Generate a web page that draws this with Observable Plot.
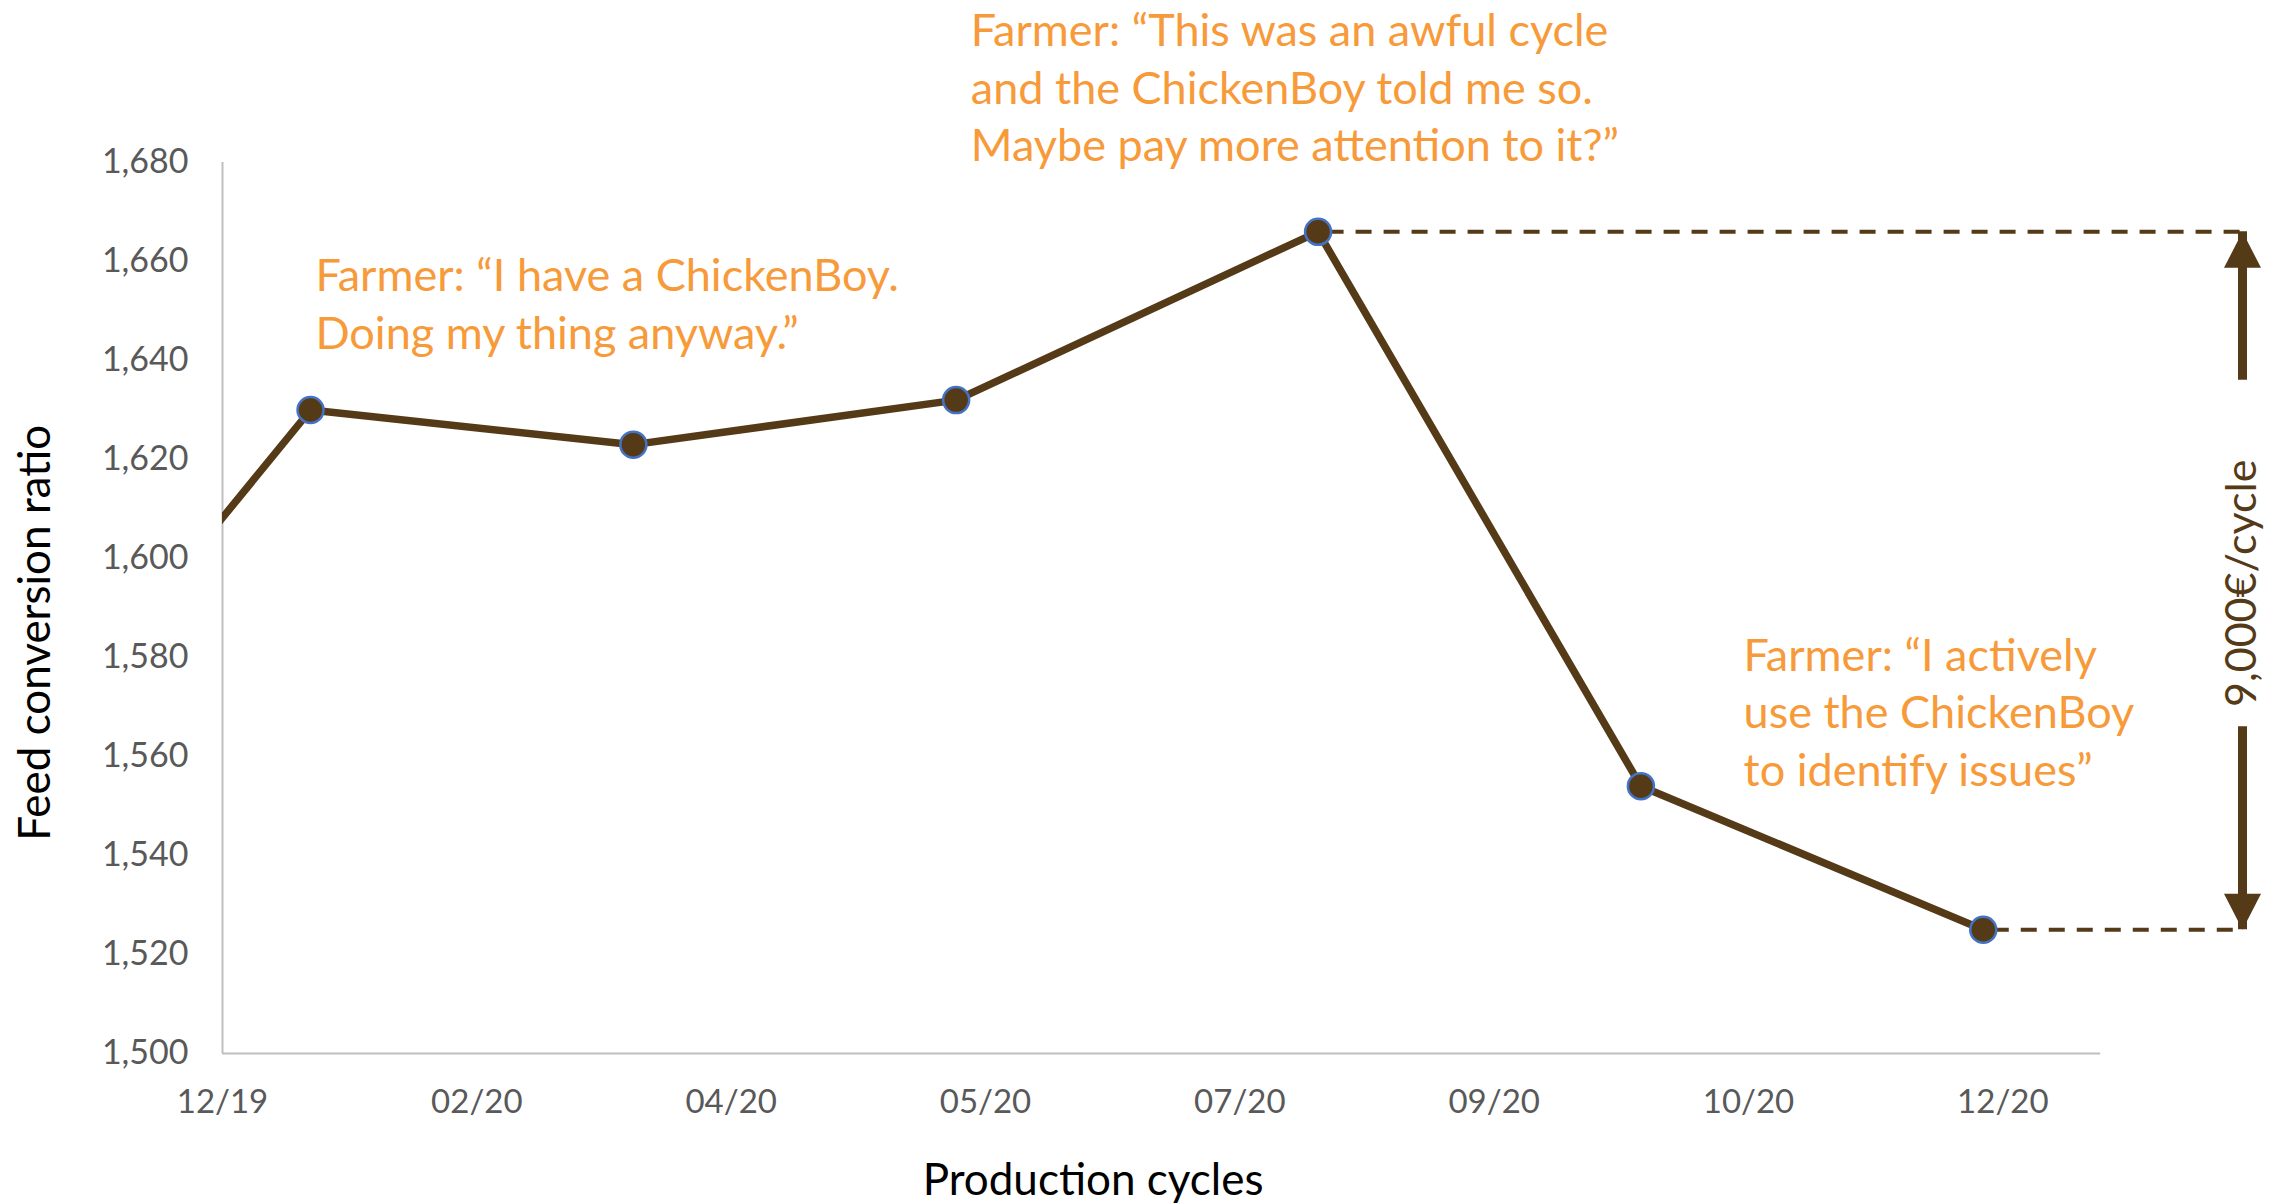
<!DOCTYPE html>
<html><head><meta charset="utf-8">
<script src="https://cdn.jsdelivr.net/npm/d3@7"></script>
<script src="https://cdn.jsdelivr.net/npm/@observablehq/plot@0.6"></script>
<style>html,body{margin:0;padding:0;background:#fff;} svg{display:block}</style>
</head><body><div id="chart"></div>
<script>
// ---- data ----
const cycleDates = ["2019-11-01","2020-01-07","2020-03-13","2020-05-18","2020-07-31","2020-10-05","2020-12-14"];
const fcrValues  = [1549, 1630, 1623, 1632, 1666, 1554, 1525];

const xTickDates  = ["2019-12-20","2020-02-10","2020-04-02","2020-05-24","2020-07-15","2020-09-05","2020-10-27","2020-12-18"];
const xTickLabels = ["12/19","02/20","04/20","05/20","07/20","09/20","10/20","12/20"];
const yTicks = [1500,1520,1540,1560,1580,1600,1620,1640,1660,1680];

const xStart = "2019-12-20", xAxisEnd = "2021-01-07", arrowDate = "2021-02-05";
const yMin = 1500, yMax = 1680;

const quoteTexts = [
  "Farmer: \u201CI have a ChickenBoy.\nDoing my thing anyway.\u201D",
  "Farmer: \u201CThis was an awful cycle\nand the ChickenBoy told me so.\nMaybe pay more attention to it?\u201D",
  "Farmer: \u201CI actively\nuse the ChickenBoy\nto identify issues\u201D"
];
const quoteDates  = ["2020-01-08","2020-05-21","2020-10-26"];
const quoteLevels = [1662.3, 1711.8, 1585.6];

const savingLabel = "9,000\u20AC/cycle";
const savingLabelLevel = 1595;
const shaftEnds = [1636, 1566];   // where the arrow shafts stop around the label

const yTitle = "Feed conversion ratio";
const xTitle = "Production cycles";
const xTitleDate = "2020-06-15";
const yTitleLevel = 1585;

// ---- styles ----
const brown = "#553A18", orange = "#F79A3A", axisGrey = "#BFBFBF", tickGrey = "#595959";

const D = s => new Date(s);
const series = cycleDates.map((d, i) => ({date: D(d), fcr: fcrValues[i]}));
const visible = series.filter(d => d.date >= D(xStart));
const peak = series.reduce((a, b) => b.fcr > a.fcr ? b : a);
const last = series[series.length - 1];
const labelOf = new Map(xTickDates.map((d, i) => [+D(d), xTickLabels[i]]));
const quotes = quoteTexts.map((t, i) => ({text: t, date: D(quoteDates[i]), level: quoteLevels[i]}));

const headUp = {draw(ctx){ctx.moveTo(0,0); ctx.lineTo(18.5,36); ctx.lineTo(-18.5,36); ctx.closePath();}};
const headDown = {draw(ctx){ctx.moveTo(0,0); ctx.lineTo(18.5,-36); ctx.lineTo(-18.5,-36); ctx.closePath();}};

const chart = Plot.plot({
  width: 2290, height: 1203,
  marginLeft: 222, marginRight: 48, marginTop: 162, marginBottom: 150,
  style: {fontFamily: "Lato, sans-serif", background: "#fff", overflow: "visible"},
  x: {type: "utc", domain: [D(xStart), D(arrowDate)]},
  y: {domain: [yMin, yMax]},
  marks: [
    // axis lines
    Plot.ruleX([D(xStart)], {y1: yMin, y2: yMax, stroke: axisGrey, strokeWidth: 2}),
    Plot.ruleY([yMin], {x1: D(xStart), x2: D(xAxisEnd), stroke: axisGrey, strokeWidth: 2}),
    Plot.axisY({ticks: yTicks, tickFormat: d3.format(","), tickSize: 0, tickPadding: 34, fontSize: 34, color: tickGrey, label: null}),
    Plot.axisX({ticks: xTickDates.map(D), tickFormat: d => labelOf.get(+d), tickSize: 0, tickPadding: 36, fontSize: 33, color: tickGrey, label: null}),
    // axis titles
    Plot.text([yTitle], {frameAnchor: "left", y: yTitleLevel, dx: -187, rotate: -90, textAnchor: "middle", fontSize: 44, fill: "#000"}),
    Plot.text([xTitle], {x: D(xTitleDate), frameAnchor: "bottom", dy: 141, textAnchor: "middle", fontSize: 44, fill: "#000"}),
    // dashed reference lines
    Plot.ruleY([peak], {y: "fcr", x1: "date", x2: D(arrowDate), stroke: brown, strokeWidth: 4, strokeDasharray: "16,12", strokeDashoffset: 18}),
    Plot.ruleY([last], {y: "fcr", x1: "date", x2: D(arrowDate), stroke: brown, strokeWidth: 4, strokeDasharray: "16,12", strokeDashoffset: 18}),
    // line + markers
    Plot.line(series, {x: "date", y: "fcr", stroke: brown, strokeWidth: 7.5, clip: true}),
    Plot.dot(visible, {x: "date", y: "fcr", r: 13, fill: brown, stroke: "#4472C4", strokeWidth: 2.5}),
    // arrows
    Plot.ruleX([D(arrowDate)], {y1: peak.fcr, y2: shaftEnds[0], stroke: brown, strokeWidth: 9}),
    Plot.ruleX([D(arrowDate)], {y1: shaftEnds[1], y2: last.fcr, stroke: brown, strokeWidth: 9}),
    Plot.dot([peak], {x: D(arrowDate), y: "fcr", symbol: headUp, fill: brown, stroke: null}),
    Plot.dot([last], {x: D(arrowDate), y: "fcr", symbol: headDown, fill: brown, stroke: null}),
    Plot.text([savingLabel], {x: D(arrowDate), y: savingLabelLevel, rotate: -90, fontSize: 43, fill: brown}),
    // quotes
    Plot.text(quotes, {x: "date", y: "level", text: "text", textAnchor: "start", lineAnchor: "top", lineHeight: 1.28, fontSize: 45, fill: orange})
  ]
});
document.getElementById("chart").appendChild(chart);
</script>
</body></html>
